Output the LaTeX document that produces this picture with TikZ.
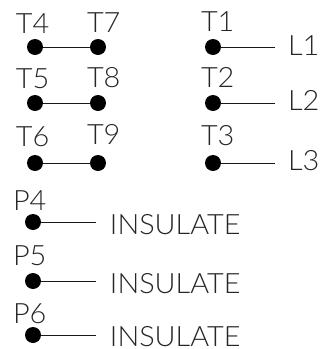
\documentclass[tikz,border=0pt]{standalone}
\usepackage{fontspec}
\setmainfont{Lato Light}
\tikzset{
  term/.style={circle,fill=black,draw=none,minimum size=16pt,inner sep=0pt},
  lab/.style={anchor=base west,inner sep=0pt,outer sep=0pt,font=\fontsize{28}{28}\selectfont,text=black!85,xscale=1.03},
  wire/.style={line width=0.9pt,black!90}
}
\begin{document}
\begin{tikzpicture}[x=1pt,y=-1pt]
\useasboundingbox (0,0) rectangle (322,349);
\node[term] (t4) at (35,47) {};
\node[term] (t7) at (98,47) {};
\node[term] (t5) at (35,103) {};
\node[term] (t8) at (98,103) {};
\node[term] (t6) at (35,163) {};
\node[term] (t9) at (98,163) {};
\node[term] (t1) at (213,47) {};
\node[term] (t2) at (213,103) {};
\node[term] (t3) at (213,163) {};
\node[term] (p4) at (33,222) {};
\node[term] (p5) at (33,281) {};
\node[term] (p6) at (33,335) {};
\coordinate (e1) at (275,47);
\coordinate (e2) at (275,103);
\coordinate (e3) at (275,163);
\coordinate (e4) at (96,222);
\coordinate (e5) at (96,281);
\coordinate (e6) at (96,335);
\draw[wire] (t4) -- (t7);
\draw[wire] (t5) -- (t8);
\draw[wire] (t6) -- (t9);
\draw[wire] (t1) -- (e1);
\draw[wire] (t2) -- (e2);
\draw[wire] (t3) -- (e3);
\draw[wire] (p4) -- (e4);
\draw[wire] (p5) -- (e5);
\draw[wire] (p6) -- (e6);
\node[lab] (lt4) at (16,33) {T4};
\node[lab] (lt7) at (87,32) {T7};
\node[lab] (lt5) at (16,88) {T5};
\node[lab] (lt8) at (87,87) {T8};
\node[lab] (lt6) at (16,146) {T6};
\node[lab] (lt9) at (87,144) {T9};
\node[lab] (lt1) at (201,31) {T1};
\node[lab] (lt2) at (201,87) {T2};
\node[lab] (lt3) at (201,145) {T3};
\node[lab] (ll1) at (288,55) {L1};
\node[lab] (ll2) at (288,110) {L2};
\node[lab] (ll3) at (288,170) {L3};
\node[lab] (lp4) at (13,210) {P4};
\node[lab] (lp5) at (13,265) {P5};
\node[lab] (lp6) at (13,323) {P6};
\node[lab] (i4) at (110,234) {INSULATE};
\node[lab] (i5) at (110,293) {INSULATE};
\node[lab] (i6) at (110,346) {INSULATE};
\end{tikzpicture}
\end{document}
